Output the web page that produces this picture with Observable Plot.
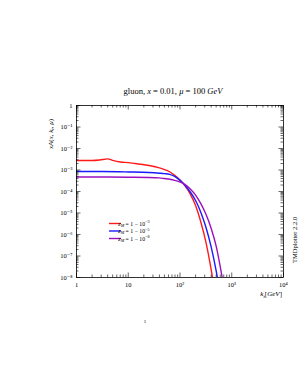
<!DOCTYPE html>
<html><head><meta charset="utf-8">
<script src="https://cdn.jsdelivr.net/npm/d3@7"></script>
<script src="https://cdn.jsdelivr.net/npm/@observablehq/plot@0.6"></script>
<style>html,body{margin:0;padding:0;background:#fff}</style>
</head><body><div id="chart"></div>
<script>
// ---- data ----
const seriesNames = ["zM = 1 - 10^-3", "zM = 1 - 10^-5", "zM = 1 - 10^-8"];
const seriesExp = ["−3", "−5", "−8"];
const seriesColors = ["#ff1a1a", "#1a1aff", "#9a10c0"];

const kRed = [1, 2, 2.8, 4, 5, 7, 10, 16, 25, 40, 50, 63, 79, 100, 126, 158, 200, 251, 316, 398, 501];
const aRed = [2.75e-3, 2.75e-3, 2.9e-3, 3.3e-3, 2.8e-3, 2.35e-3, 2.2e-3, 1.9e-3, 1.62e-3, 1.26e-3, 1.05e-3, 8.3e-4, 5.6e-4, 3.4e-4, 1.78e-4, 7.6e-5, 2.24e-5, 4.0e-6, 4.5e-7, 2.5e-8, 7.9e-10];

const kBlue = [1, 3, 10, 25, 40, 50, 63, 79, 100, 126, 158, 200, 251, 316, 398, 501, 631];
const aBlue = [8.5e-4, 8.5e-4, 8.1e-4, 7.6e-4, 7.1e-4, 6.8e-4, 6.3e-4, 5.0e-4, 3.3e-4, 1.9e-4, 9.5e-5, 3.8e-5, 1.12e-5, 2.24e-6, 2.8e-7, 2.0e-8, 7.9e-10];

const kPurple = [1, 3, 10, 25, 40, 50, 63, 79, 100, 126, 158, 200, 251, 316, 398, 501, 631, 794];
const aPurple = [4.7e-4, 4.7e-4, 4.6e-4, 4.5e-4, 4.3e-4, 4.0e-4, 3.7e-4, 3.3e-4, 2.75e-4, 2.1e-4, 1.32e-4, 6.8e-5, 2.8e-5, 8.9e-6, 2.0e-6, 2.8e-7, 1.58e-8, 5e-10];

const xMajor = [1, 10, 100, 1000, 10000];
const xTickLabels = ["1", "10", "10²", "10³", "10⁴"];
const yMajor = [1e-8, 1e-7, 1e-6, 1e-5, 1e-4, 1e-3, 1e-2, 1e-1, 1];
const yTickLabels = ["10⁻⁸", "10⁻⁷", "10⁻⁶", "10⁻⁵", "10⁻⁴", "10⁻³", "10⁻²", "10⁻¹", "1"];
const minorMultipliers = [2, 3, 4, 5, 6, 7, 8, 9];

// ---- build table ----
const table = [];
[[kRed, aRed], [kBlue, aBlue], [kPurple, aPurple]].forEach(([ks, as], s) => {
  ks.forEach((k, i) => table.push({series: seriesNames[s], k, a: as[i]}));
});
const xMinor = xMajor.slice(0, -1).flatMap(d => minorMultipliers.map(m => d * m));
const yMinor = yMajor.slice(0, -1).flatMap(d => minorMultipliers.map(m => d * m));

const W = 299, H = 387, mL = 76, mR = 16, mT = 105, mB = 110;
const fw = W - mL - mR, fh = H - mT - mB;
const serif = "'Liberation Serif', 'DejaVu Serif', serif";
const tk = {stroke: "black", strokeWidth: 0.6};

const svg = Plot.plot({
  width: W, height: H,
  marginLeft: mL, marginRight: mR, marginTop: mT, marginBottom: mB,
  x: {type: "log", domain: [1, 1e4]},
  y: {type: "log", domain: [1e-8, 1]},
  color: {domain: seriesNames, range: seriesColors},
  style: {fontFamily: serif, fontSize: "6.5px", background: "white", color: "black", overflow: "visible"},
  marks: [
    Plot.axisX({ticks: xMajor, tickFormat: d => xTickLabels[xMajor.indexOf(d)], tickSize: 0, tickPadding: 5, label: null}),
    Plot.axisY({ticks: yMajor, tickFormat: d => yTickLabels[yMajor.indexOf(d)], tickSize: 0, tickPadding: 4, label: null}),
    Plot.line(table, {x: "k", y: "a", z: "series", stroke: "series", strokeWidth: 1.4, curve: "monotone-x", clip: true}),
    // inward ticks on all four sides
    Plot.tickX(xMajor, {x: d => d, insetTop: fh - 4.5, ...tk}),
    Plot.tickX(xMajor, {x: d => d, insetBottom: fh - 4.5, ...tk}),
    Plot.tickX(xMinor, {x: d => d, insetTop: fh - 2.5, ...tk}),
    Plot.tickX(xMinor, {x: d => d, insetBottom: fh - 2.5, ...tk}),
    Plot.tickY(yMajor, {y: d => d, insetRight: fw - 4.5, ...tk}),
    Plot.tickY(yMajor, {y: d => d, insetLeft: fw - 4.5, ...tk}),
    Plot.tickY(yMinor, {y: d => d, insetRight: fw - 2.5, ...tk}),
    Plot.tickY(yMinor, {y: d => d, insetLeft: fw - 2.5, ...tk}),
    Plot.frame({stroke: "black", strokeWidth: 0.8})
  ]
});

const s = d3.select(svg);
const g = s.append("g").attr("font-family", serif).attr("fill", "black");

// title
const t = g.append("text").attr("x", 173).attr("y", 93.5).attr("text-anchor", "middle").attr("font-size", 8.5);
t.append("tspan").text("gluon, ");
t.append("tspan").attr("font-style", "italic").text("x");
t.append("tspan").text(" = 0.01, ");
t.append("tspan").attr("font-style", "italic").text("μ");
t.append("tspan").text(" = 100 ");
t.append("tspan").attr("font-style", "italic").text("GeV");

// y label
const yl = g.append("text").attr("transform", "translate(52.5,134) rotate(-90)").attr("text-anchor", "middle").attr("font-size", 7);
yl.append("tspan").attr("font-style", "italic").text("xA");
yl.append("tspan").text("(");
yl.append("tspan").attr("font-style", "italic").text("x");
yl.append("tspan").text(", ");
yl.append("tspan").attr("font-style", "italic").text("k");
yl.append("tspan").attr("font-style", "italic").attr("font-size", 5).attr("dy", 1.5).text("t");
yl.append("tspan").attr("dy", -1.5).text(", ");
yl.append("tspan").attr("font-style", "italic").text("μ");
yl.append("tspan").text(")");

// x label
const xl = g.append("text").attr("x", 282).attr("y", 296).attr("text-anchor", "end").attr("font-size", 7);
xl.append("tspan").attr("font-style", "italic").text("k");
xl.append("tspan").attr("font-style", "italic").attr("font-size", 5).attr("dy", 1.5).text("t");
xl.append("tspan").attr("dy", -1.5).text("[");
xl.append("tspan").attr("font-style", "italic").text("GeV");
xl.append("tspan").text("]");

// side label
g.append("text").attr("transform", "translate(297,240) rotate(-90)").attr("text-anchor", "middle").attr("font-size", 6.5).text("TMDplotter 2.2.0");

// page number
g.append("text").attr("x", 145).attr("y", 323).attr("text-anchor", "middle").attr("font-size", 5).text("1");

// legend
const legY = [223.5, 231, 238.5];
seriesNames.forEach((name, i) => {
  g.append("line").attr("x1", 109).attr("x2", 121).attr("y1", legY[i]).attr("y2", legY[i])
    .attr("stroke", seriesColors[i]).attr("stroke-width", 1.4);
  const lt = g.append("text").attr("x", 134).attr("y", legY[i] + 2).attr("font-size", 5.8);
  lt.append("tspan").attr("font-style", "italic").text("z");
  lt.append("tspan").attr("font-style", "italic").attr("font-size", 4.2).attr("dy", 1.2).text("M");
  lt.append("tspan").attr("dy", -1.2).text(" = 1 − 10");
  lt.append("tspan").attr("font-size", 4.2).attr("dy", -2.5).text(seriesExp[i]);
});

document.getElementById("chart").appendChild(svg);
</script>
</body></html>
